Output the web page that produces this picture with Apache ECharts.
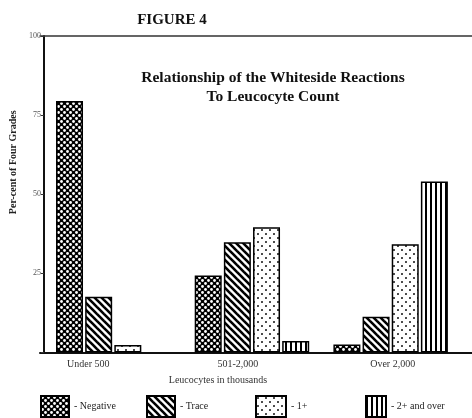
<!DOCTYPE html>
<html><head><meta charset="utf-8">
<script src="https://cdn.jsdelivr.net/npm/echarts@6/dist/echarts.min.js"></script>
<style>html,body{margin:0;padding:0;background:#fff}#c{width:472px;height:418px}</style>
</head><body><div id="c"></div>
<script>
var categories = ['Under 500', '501-2,000', 'Over 2,000'];
var negative = [79.5, 24.3, 2.5];
var trace = [17.6, 34.8, 11.3];
var plusOne = [2.4, 39.6, 34.2];
var plusTwo = [null, 3.6, 54];
var seriesNames = ['Negative', 'Trace', '1+', '2+ and over'];
var yTicks = [0, 25, 50, 75, 100];

function tile(w, h, draw) {
  var c = document.createElement('canvas');
  c.width = w; c.height = h;
  var ctx = c.getContext('2d');
  draw(ctx, w, h);
  return { image: c, repeat: 'repeat' };
}
var patNeg = tile(6, 6, function (ctx, w, h) {
  ctx.fillStyle = '#000'; ctx.fillRect(0, 0, w, h);
  ctx.fillStyle = '#fff';
  [[1.5, 1.5], [4.5, 4.5]].forEach(function (p) {
    ctx.beginPath(); ctx.arc(p[0], p[1], 1.4, 0, Math.PI * 2); ctx.fill();
  });
});
var patTrace = tile(7, 7, function (ctx, w, h) {
  ctx.fillStyle = '#fff'; ctx.fillRect(0, 0, w, h);
  ctx.strokeStyle = '#000'; ctx.lineWidth = 2.6;
  [-7, 0, 7].forEach(function (o) {
    ctx.beginPath(); ctx.moveTo(o - 1, -1); ctx.lineTo(o + 8, 8); ctx.stroke();
  });
});
var patOne = tile(8, 8, function (ctx, w, h) {
  ctx.fillStyle = '#fff'; ctx.fillRect(0, 0, w, h);
  ctx.fillStyle = '#000';
  [[2, 2], [6, 6]].forEach(function (p) {
    ctx.beginPath(); ctx.arc(p[0], p[1], 0.95, 0, Math.PI * 2); ctx.fill();
  });
});
var patTwo = tile(5, 4, function (ctx, w, h) {
  ctx.fillStyle = '#fff'; ctx.fillRect(0, 0, w, h);
  ctx.fillStyle = '#000'; ctx.fillRect(0, 0, 2, h);
});
var pats = [patNeg, patTrace, patOne, patTwo];
var values = [negative, trace, plusOne, plusTwo];
var serif = '"Liberation Serif", "DejaVu Serif", serif';

var series = seriesNames.map(function (n, i) {
  return {
    name: n, type: 'bar', data: values[i], barWidth: 27, barGap: '8%',
    xAxisIndex: 0, yAxisIndex: 0,
    itemStyle: { color: pats[i], borderColor: '#000', borderWidth: 1.5 }
  };
});

var legendLefts = [40, 146, 255, 365];
var legendW = [28, 28, 30, 20];
var legends = seriesNames.map(function (n, i) {
  return {
    data: [{ name: n, icon: 'rect' }], left: legendLefts[i], top: 395, padding: 0,
    itemWidth: legendW[i], itemHeight: 21, itemGap: 0,
    formatter: '- {name}', selectedMode: false,
    textStyle: { fontFamily: serif, fontSize: 10, color: '#222' }
  };
});

var labelShift = { 'Under 500': 'a', '501-2,000': 'b', 'Over 2,000': 'c' };
var labelRich = {
  a: { fontFamily: serif, fontSize: 10, color: '#333', padding: [0, 50, 0, 0] },
  b: { fontFamily: serif, fontSize: 10, color: '#333', padding: [0, 28, 0, 0] },
  c: { fontFamily: serif, fontSize: 10, color: '#333', padding: [0, 0, 0, 4] }
};

var chart = echarts.init(document.getElementById('c'));
chart.setOption({
  animation: false,
  title: [
    { text: 'FIGURE 4', left: 167, top: 8, textAlign: 'center',
      textStyle: { fontFamily: serif, fontWeight: 'bold', fontSize: 15, color: '#111' } },
    { text: 'Relationship of the Whiteside Reactions\nTo Leucocyte Count', left: 268, top: 63, textAlign: 'center',
      textStyle: { fontFamily: serif, fontWeight: 'bold', fontSize: 15.5, lineHeight: 19, color: '#111' } }
  ],
  legend: legends,
  grid: [
    { left: 40, right: 12, top: 36, bottom: 65.5 },
    { left: 40, right: 0, top: 36, bottom: 65.5 }
  ],
  xAxis: [
    { type: 'category', data: categories, gridIndex: 0,
      axisLine: { show: false }, axisTick: { show: false },
      axisLabel: { margin: 7, fontFamily: serif, fontSize: 10, color: '#333',
        formatter: function (v) { return '{' + labelShift[v] + '|' + v + '}'; }, rich: labelRich },
      name: 'Leucocytes in thousands', nameLocation: 'middle', nameGap: 23,
      nameTextStyle: { fontFamily: serif, fontSize: 10, color: '#333', padding: [0, 68, 0, 0] } },
    { type: 'category', data: [''], gridIndex: 1, position: 'bottom',
      axisLine: { lineStyle: { color: '#111', width: 2 } }, axisTick: { show: false }, axisLabel: { show: false } },
    { type: 'category', data: [''], gridIndex: 1, position: 'top',
      axisLine: { lineStyle: { color: '#333', width: 1.5 } }, axisTick: { show: false }, axisLabel: { show: false } }
  ],
  yAxis: [
    { type: 'value', gridIndex: 0, min: yTicks[0], max: yTicks[yTicks.length - 1], interval: 25,
      axisLine: { show: true, lineStyle: { color: '#111', width: 2 } },
      axisTick: { show: true, length: 3, lineStyle: { color: '#333' } },
      splitLine: { show: false },
      axisLabel: { margin: 3, fontFamily: serif, fontSize: 8, color: '#555',
        formatter: function (v) { return v === 0 ? '' : String(v); } },
      name: 'Per-cent of Four Grades', nameLocation: 'middle', nameGap: 22, nameRotate: 90,
      nameTextStyle: { fontFamily: serif, fontWeight: 'bold', fontSize: 10, color: '#222', padding: [0, 0, 0, 64] } },
    { type: 'value', gridIndex: 1, show: false, min: 0, max: 100 }
  ],
  series: series
});
</script></body></html>
